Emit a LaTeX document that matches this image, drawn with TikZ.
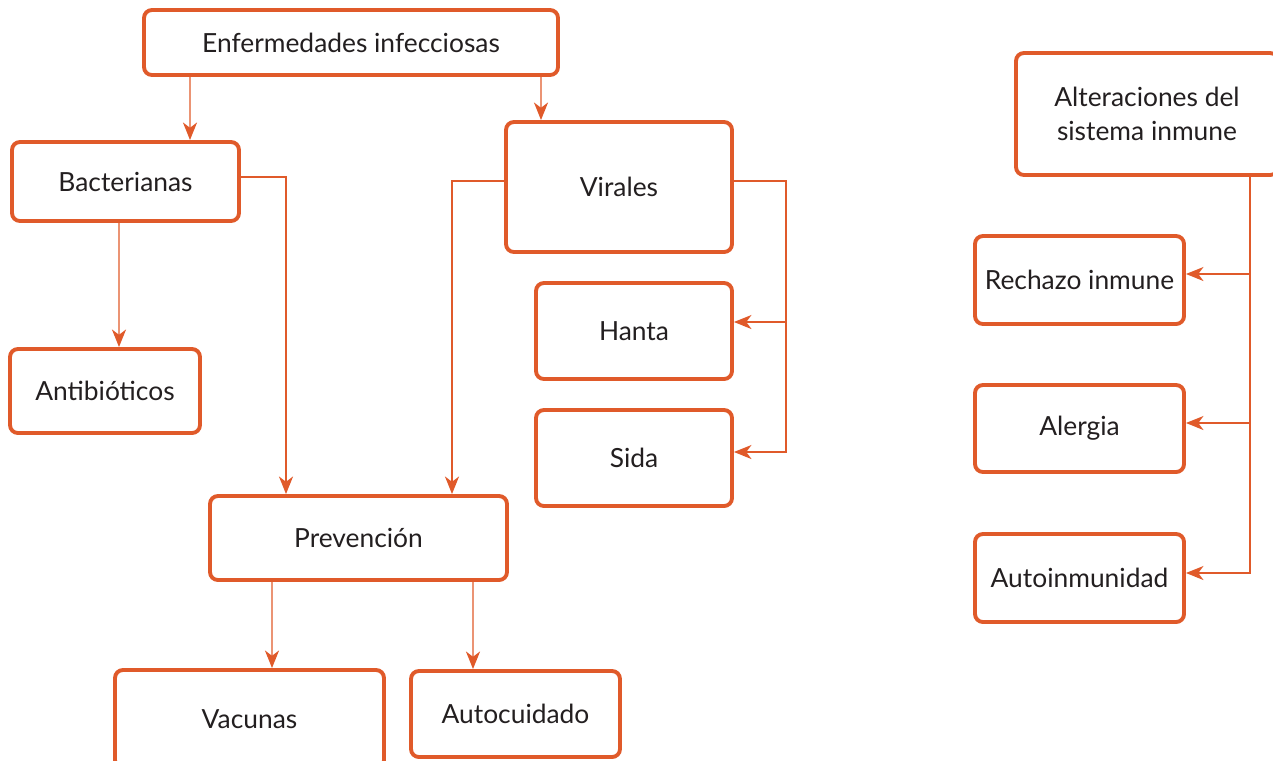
\documentclass[tikz,border=0pt]{standalone}
\usepackage{fontspec}
\setmainfont{Lato}
\usepackage{tikz}
\usetikzlibrary{arrows.meta}
\definecolor{naranja}{HTML}{E05A2A}
\definecolor{texto}{HTML}{231F20}

\begin{document}
\begin{tikzpicture}[
    caja/.style={rectangle, draw=naranja, line width=2.2pt, rounded corners=4.5pt,
        fill=white, text=texto, align=center, inner sep=0pt,
        font=\fontsize{15}{19.5}\selectfont},
    flecha/.style={draw=naranja, line width=0.8pt,
        -{Stealth[length=10pt, width=8pt, inset=3pt]}}
]
    \useasboundingbox (0,0) rectangle (25.46,-15.2);

    \node[caja, minimum width=8.28cm, minimum height=1.30cm] (enf) at (7.02,-0.85) {Enfermedades infecciosas};
    \node[caja, minimum width=4.54cm, minimum height=1.58cm] (bact) at (2.51,-3.63) {Bacterianas};
    \node[caja, minimum width=4.52cm, minimum height=2.60cm] (vir) at (12.38,-3.74) {Virales};
    \node[caja, minimum width=3.80cm, minimum height=1.68cm] (anti) at (2.10,-7.82) {Antibióticos};
    \node[caja, minimum width=3.92cm, minimum height=1.92cm] (hanta) at (12.68,-6.62) {Hanta};
    \node[caja, minimum width=3.92cm, minimum height=1.92cm] (sida) at (12.68,-9.16) {Sida};
    \node[caja, minimum width=5.94cm, minimum height=1.68cm] (prev) at (7.17,-10.76) {Prevención};
    \node[caja, minimum width=5.38cm, minimum height=1.96cm] (vac) at (4.99,-14.38) {Vacunas};
    \node[caja, minimum width=4.18cm, minimum height=1.72cm] (autoc) at (10.31,-14.28) {Autocuidado};

    \node[caja, minimum width=5.24cm, minimum height=2.44cm] (alt) at (22.94,-2.28) {Alteraciones del\\sistema inmune};
    \node[caja, minimum width=4.18cm, minimum height=1.76cm] (rech) at (21.59,-5.60) {Rechazo inmune};
    \node[caja, minimum width=4.18cm, minimum height=1.74cm] (aler) at (21.59,-8.57) {Alergia};
    \node[caja, minimum width=4.18cm, minimum height=1.76cm] (autoin) at (21.59,-11.56) {Autoinmunidad};

    % infecciosas
    \draw[flecha] ([xshift=-3.22cm]enf.south) -- ([xshift=1.29cm]bact.north);
    \draw[flecha] ([xshift=3.80cm]enf.south) -- ([xshift=-1.56cm]vir.north);
    \draw[flecha] ([xshift=-0.13cm]bact.south) -- ([xshift=0.28cm]anti.north);
    \draw[flecha] ([yshift=0.09cm]bact.east) -| ([xshift=-1.45cm]prev.north);
    \draw[flecha] ([yshift=0.12cm]vir.west) -| ([xshift=1.87cm]prev.north);
    \draw[flecha] ([yshift=0.12cm]vir.east) -- ++(1.04,0) coordinate (vr) |- ([yshift=0.18cm]hanta.east);
    \draw[flecha] (vr) |- ([yshift=0.12cm]sida.east);
    \draw[flecha] ([xshift=-1.73cm]prev.south) -- ([xshift=0.45cm]vac.north);
    \draw[flecha] ([xshift=2.29cm]prev.south) -- ([xshift=-0.85cm]autoc.north);

    % sistema inmune
    \draw[flecha] ([xshift=2.06cm]alt.south) |- ([yshift=0.12cm]rech.east);
    \draw[flecha] ([xshift=2.06cm]alt.south) |- ([yshift=0.11cm]aler.east);
    \draw[flecha] ([xshift=2.06cm]alt.south) |- ([yshift=0.10cm]autoin.east);
\end{tikzpicture}
\end{document}
